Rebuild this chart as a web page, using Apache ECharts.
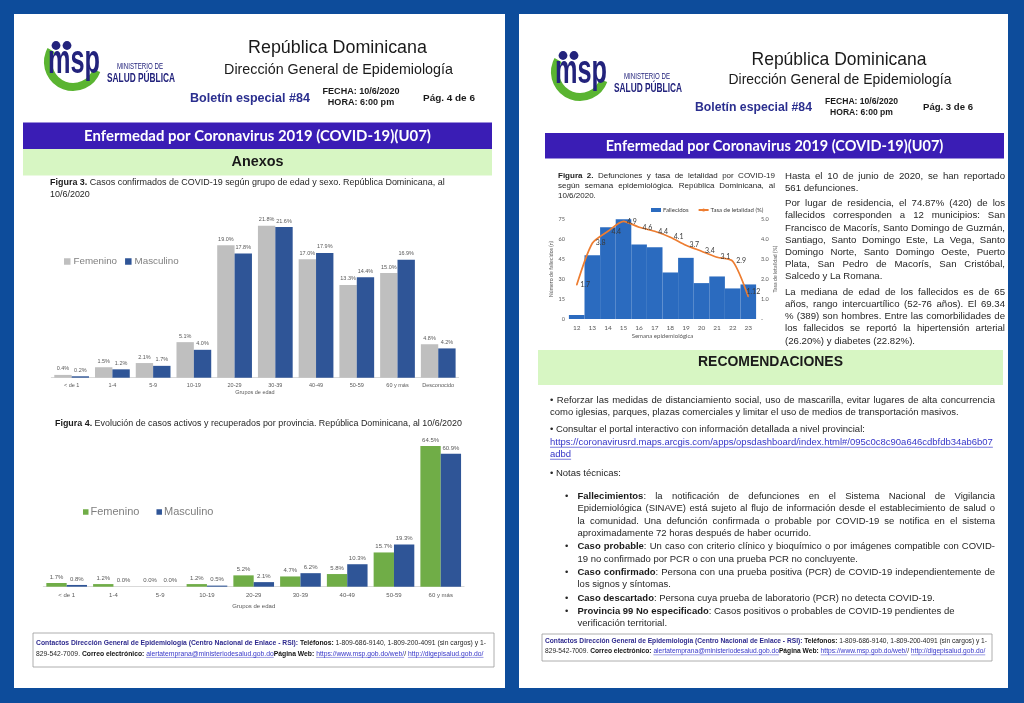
<!DOCTYPE html>
<html><head><meta charset="utf-8">
<script src="https://cdn.jsdelivr.net/npm/echarts@6.0.0/dist/echarts.min.js"></script>
<style>html,body{margin:0;padding:0;background:#0d4c9b;}#c{width:1024px;height:703px;}</style>
</head><body><div id="c"></div>
<script>
// ---------------- chart data ----------------
const fig3Categories = ['< de 1','1-4','5-9','10-19','20-29','30-39','40-49','50-59','60 y más','Desconocido'];
const fig3Femenino  = [0.4, 1.5, 2.1, 5.1, 19.0, 21.8, 17.0, 13.3, 15.0, 4.8];
const fig3Masculino = [0.2, 1.2, 1.7, 4.0, 17.8, 21.6, 17.9, 14.4, 16.9, 4.2];

const fig4Categories = ['< de 1','1-4','5-9','10-19','20-29','30-39','40-49','50-59','60 y más'];
const fig4Femenino  = [1.7, 1.2, 0.0, 1.2, 5.2, 4.7, 5.8, 15.7, 64.5];
const fig4Masculino = [0.8, 0.0, 0.0, 0.5, 2.1, 6.2, 10.3, 19.3, 60.9];

const fig2Weeks      = ['12','13','14','15','16','17','18','19','20','21','22','23'];
const fig2Fallecidos = [3, 48, 69, 77, 56, 54, 35, 46, 27, 32, 23, 26];
const fig2Tasa       = [1.7, 3.8, 4.4, 4.9, 4.6, 4.4, 4.1, 3.7, 3.4, 3.1, 2.9, 1.12];

// ---------------- text content ----------------
const titleBar = 'Enfermedad por Coronavirus 2019 (COVID-19)(U07)';
const rightColumn = [
  {y:176, j:1, s:'Hasta el 10 de junio de 2020, se han reportado'},
  {y:188.2, s:'561 defunciones.'},
  {y:203.6, j:1, s:'Por lugar de residencia, el 74.87% (420) de los'},
  {y:215.8, j:1, s:'fallecidos corresponden a 12 municipios: San'},
  {y:228, j:1, s:'Francisco de Macorís, Santo Domingo de Guzmán,'},
  {y:240.2, j:1, s:'Santiago, Santo Domingo Este, La Vega, Santo'},
  {y:252.4, j:1, s:'Domingo Norte, Santo Domingo Oeste, Puerto'},
  {y:264.6, j:1, s:'Plata, San Pedro de Macorís, San Cristóbal,'},
  {y:276.8, s:'Salcedo y La Romana.'},
  {y:292.2, j:1, s:'La mediana de edad de los fallecidos es de 65'},
  {y:304.4, j:1, s:'años, rango intercuartílico (52-76 años). El 69.34'},
  {y:316.6, j:1, s:'% (389) son hombres. Entre las comorbilidades de'},
  {y:328.8, j:1, s:'los fallecidos se reportó la hipertensión arterial'},
  {y:341, s:'(26.20%) y diabetes (22.82%).'}
];
const recLines = [
  {x:550, w:445, y:400, j:1, s:'• Reforzar las medidas de distanciamiento social, uso de mascarilla, evitar lugares de alta concurrencia'},
  {x:550, w:445, y:412, s:'como iglesias, parques, plazas comerciales y limitar el uso de medios de transportación masivos.'},
  {x:550, w:445, y:429.5, s:'• Consultar el portal interactivo con información detallada a nivel provincial:'},
  {x:550, w:445, y:442.5, s:[['l','https://coronavirusrd.maps.arcgis.com/apps/opsdashboard/index.html#/095c0c8c90a646cdbfdb34ab6b07']]},
  {x:550, w:445, y:454.5, s:[['l','adbd']]},
  {x:550, w:445, y:473, s:'• Notas técnicas:'},
  {x:577.5, w:417.5, y:496, j:1, b:1, s:[['b','Fallecimientos'],['n',': la notificación de defunciones en el Sistema Nacional de Vigilancia']]},
  {x:577.5, w:417.5, y:508.5, j:1, s:'Epidemiológica (SINAVE) está sujeto al flujo de información desde el establecimiento de salud o'},
  {x:577.5, w:417.5, y:521, j:1, s:'la comunidad. Una defunción confirmada o probable por COVID-19 se notifica en el sistema'},
  {x:577.5, w:417.5, y:533.5, s:'aproximadamente 72 horas después de haber ocurrido.'},
  {x:577.5, w:417.5, y:546.5, j:1, b:1, s:[['b','Caso probable'],['n',': Un caso con criterio clínico y bioquímico o por imágenes compatible con COVID-']]},
  {x:577.5, w:417.5, y:559, s:'19 no confirmado por PCR o con una prueba PCR no concluyente.'},
  {x:577.5, w:417.5, y:572, j:1, b:1, s:[['b','Caso confirmado'],['n',': Persona con una prueba positiva (PCR) de COVID-19 independientemente de']]},
  {x:577.5, w:417.5, y:584.5, s:'los signos y síntomas.'},
  {x:577.5, w:417.5, y:598, b:1, s:[['b','Caso descartado'],['n',': Persona cuya prueba de laboratorio (PCR) no detecta COVID-19.']]},
  {x:577.5, w:417.5, y:611, b:1, s:[['b','Provincia 99 No especificado'],['n',': Casos positivos o probables de COVID-19 pendientes de']]},
  {x:577.5, w:417.5, y:623.5, s:'verificación territorial.'}
];
const footerLine1 = [['v','Contactos Dirección General de Epidemiología (Centro Nacional de Enlace - RSI):'],['k',' Teléfonos:'],['n',' 1-809-686-9140, 1-809-200-4091 (sin cargos) y 1-']];
const footerLine2 = [['n','829-542-7009.  '],['k','Correo electrónico:'],['n',' '],['l','alertatemprana@ministeriodesalud.gob.do'],['k','Página Web:'],['n',' '],['l','https://www.msp.gob.do/web/'],['n','/ '],['l','http://digepisalud.gob.do/']];

// ---------------- helpers ----------------
const AR = "'Liberation Sans', Arial, sans-serif";
const CAL = "Lato, 'Open Sans', sans-serif";
const G = [];
const ctx = document.createElement('canvas').getContext('2d');
function font(bold, size, fam){ return (bold ? 'bold ' : '') + size.toFixed(2) + 'px ' + (fam || AR); }
function mw(f, t){ ctx.font = f; return ctx.measureText(t).width; }
function fit(text, bold, fam, target){ return 20 * target / mw(font(bold, 20, fam), text); }
function T(x, y, text, f, fill, align, extra){
  const el = {type:'text', x:x, y:y, z:5, silent:true,
    style:{text:text, font:f, fill:fill || '#1e1e1e', align:align || 'left', verticalAlign:'middle',
           textAlign:align || 'left', textVerticalAlign:'middle'}};
  if (extra) Object.assign(el, extra);
  G.push(el);
}
function R(x, y, w, h, fill, stroke, lw, z){
  G.push({type:'rect', z:(z == null ? 1 : z), silent:true, shape:{x:x, y:y, width:w, height:h},
          style:{fill:fill || 'none', stroke:stroke || null, lineWidth:lw || 0}});
}
const STY = {
  n:{b:0, c:'#262626'}, b:{b:1, c:'#1a1a1a'}, v:{b:1, c:'#2e2a8e'},
  l:{b:0, c:'#3535c8', u:1}, k:{b:1, c:'#111111'}
};
function segsOf(s){ return typeof s === 'string' ? [['n', s]] : s; }
function words(segs){
  const out = []; let cur = [];
  segs.forEach(s => {
    const parts = s[1].split(' ');
    parts.forEach((p, i) => { if (i > 0 && cur.length) { out.push(cur); cur = []; } if (p) cur.push([s[0], p]); });
  });
  if (cur.length) out.push(cur);
  return out;
}
function wwidth(wd, size, fam){ return wd.reduce((a, r) => a + mw(font(STY[r[0]].b, size, fam), r[1]), 0); }
function natural(segs, size, fam){
  const ws = words(segs); const sp = mw(font(0, size, fam), ' ');
  return ws.reduce((a, w) => a + wwidth(w, size, fam), 0) + sp * (ws.length - 1);
}
function drawLine(x, y, w, segs, size, justify, fam){
  const ws = words(segs); const sp = mw(font(0, size, fam), ' ');
  const widths = ws.map(wd => wwidth(wd, size, fam)); const tot = widths.reduce((a, b) => a + b, 0);
  let gap = sp;
  if (justify && ws.length > 1) gap = Math.max(sp * 0.4, (w - tot) / (ws.length - 1));
  let cx = x;
  ws.forEach(wd => {
    wd.forEach(r => {
      const st = STY[r[0]]; const f = font(st.b, size, fam); const rw = mw(f, r[1]);
      T(cx, y, r[1], f, st.c);
      if (st.u) G.push({type:'line', z:5, silent:true,
        shape:{x1:cx, y1:y + size * 0.5, x2:cx + rw, y2:y + size * 0.5},
        style:{stroke:st.c, lineWidth:Math.max(0.5, size * 0.07)}});
      cx += rw;
    });
    cx += gap;
  });
}
function block(lines, x, w, est, fam){
  let size = est;
  lines.forEach(L => {
    const n = natural(segsOf(L.s), est, fam); const ww = L.w || w;
    if (n > ww) size = Math.min(size, est * ww / n * 0.995);
  });
  lines.forEach(L => drawLine(L.x || x, L.y, L.w || w, segsOf(L.s), size, !!L.j, fam));
  return size;
}
function logo(ox, oy){
  G.push({type:'arc', z:3, silent:true, shape:{cx:ox + 28, cy:oy + 22, r:25, startAngle:0.35, endAngle:Math.PI + 0.5, clockwise:true},
          style:{stroke:'#5ab431', lineWidth:8, fill:null}});
  const f = font(1, 40, AR);
  const sx = 52 / mw(f, 'msp');
  T(ox + 3, oy + 22, 'msp', f, '#23237c', 'left', {scaleX:sx, z:4});
  G.push({type:'circle', z:4, silent:true, shape:{cx:ox + 11, cy:oy + 5.5, r:4.4}, style:{fill:'#23237c'}});
  G.push({type:'circle', z:4, silent:true, shape:{cx:ox + 22, cy:oy + 5.5, r:4.4}, style:{fill:'#23237c'}});
  const f1 = font(0, 9, AR), f2 = font(1, 12, AR);
  T(ox + 72, oy + 27, 'MINISTERIO DE', f1, '#23237c', 'left', {scaleX:46 / mw(f1, 'MINISTERIO DE')});
  T(ox + 62, oy + 39, 'SALUD PÚBLICA', f2, '#23237c', 'left', {scaleX:68 / mw(f2, 'SALUD PÚBLICA')});
}
function header(p){
  logo(p.lx, p.ly);
  T(p.rdx, p.rdy, 'República Dominicana', font(0, fit('República Dominicana', 0, AR, p.rdw)), '#1a1a1a', 'center');
  T(p.dgx, p.dgy, 'Dirección General de Epidemiología', font(0, fit('Dirección General de Epidemiología', 0, AR, p.dgw)), '#1a1a1a', 'center');
  T(p.bx, p.by, 'Boletín especial #84', font(1, fit('Boletín especial #84', 1, AR, p.bw)), '#2b2f8f', 'left');
  const fs = fit('FECHA: 10/6/2020', 1, AR, p.fw);
  T(p.fx, p.fy, 'FECHA: 10/6/2020', font(1, fs), '#1a1a1a', 'center');
  T(p.fx, p.fy + 11, 'HORA: 6:00 pm', font(1, fs), '#1a1a1a', 'center');
  T(p.px, p.by, p.pag, font(1, fit(p.pag, 1, AR, p.pw)), '#1a1a1a', 'left');
  R(p.tbx, p.tby, p.tbw, p.tbh, '#3a1db5');
  T(p.tbx + p.tbw / 2, p.tby + p.tbh / 2 + 0.5, titleBar, font(1, fit(titleBar, 1, CAL, p.ttw), CAL), '#ffffff', 'center');
}
function footer(x, y, w, h, y1, y2, tw){
  R(x, y, w, h, '#ffffff', '#9a9a9a', 0.8, 2);
  let size = 6.5 * tw / natural(footerLine2, 6.5);
  const n1 = natural(footerLine1, size); if (n1 > tw) size *= tw / n1;
  drawLine(x + 3, y1, tw, footerLine1, size, true);
  drawLine(x + 3, y2, tw, footerLine2, size, false);
}

// ---------------- pages ----------------
R(14, 14, 491, 674, '#ffffff', null, 0, 0);
R(519, 14, 489, 674, '#ffffff', null, 0, 0);

header({lx:45, ly:40, rdx:337.5, rdy:48, rdw:179, dgx:338.5, dgy:70, dgw:229, bx:190, by:98.5, bw:120,
        fx:361, fy:92, fw:77, px:423, pw:52, pag:'Pág. 4 de 6', tbx:23, tby:122.5, tbw:469, tbh:26.5, ttw:347});
header({lx:552, ly:50, rdx:839, rdy:60, rdw:175, dgx:840, dgy:80, dgw:223, bx:695, by:107.5, bw:117,
        fx:861.5, fy:101.5, fw:73, px:923, pw:50, pag:'Pág. 3 de 6', tbx:545, tby:133, tbw:459, tbh:25.5, ttw:338});

// left page bands and captions
R(23, 149, 469, 26.5, '#d7f6c3');
T(257.5, 162.5, 'Anexos', font(1, fit('Anexos', 1, AR, 52)), '#1a1a1a', 'center');
const cap3 = [['b','Figura 3.'],['n',' Casos confirmados de COVID-19 según grupo de edad y sexo. República Dominicana, al']];
const s3 = 10 * 395 / natural(cap3, 10);
drawLine(50, 182.5, 400, cap3, s3, false);
drawLine(50, 194.5, 400, [['n','10/6/2020']], s3, false);
const cap4 = [['b','Figura 4.'],['n',' Evolución de casos activos y recuperados por provincia. República Dominicana, al 10/6/2020']];
drawLine(55, 423.5, 410, cap4, 10 * 407 / natural(cap4, 10), false);
footer(33, 633, 461, 34, 643.5, 654, 450);

// right page
block([
  {y:176, j:1, s:[['b','Figura 2.'],['n',' Defunciones y tasa de letalidad por COVID-19']]},
  {y:186, j:1, s:'según semana epidemiológica. República Dominicana, al'},
  {y:196, s:'10/6/2020.'}
], 558, 217, 8);
block(rightColumn, 785, 220, 10.2);
R(538, 350, 465, 35, '#d7f6c3');
T(770.5, 362, 'RECOMENDACIONES', font(1, fit('RECOMENDACIONES', 1, AR, 145)), '#1a1a1a', 'center');
const recSize = block(recLines, 550, 445, 9.6);
recLines.forEach(L => { if (L.b) T(565, L.y, '•', font(0, recSize), '#262626', 'left'); });
footer(542, 634, 450, 27, 641.5, 651.5, 442);

// ---------------- chart ----------------
const chart = echarts.init(document.getElementById('c'), null, {renderer:'canvas', width:1024, height:703});
const pct = p => p.value.toFixed(1) + '%';
const lblGray = '#595959';
const lastIdx = fig2Tasa.length - 1;

const option = {
  backgroundColor: '#0d4c9b',
  animation: false,
  textStyle: {fontFamily: AR},
  grid: [
    {left:51.3, top:203.4, width:407.3, height:174.3, containLabel:false, outerBoundsMode:'none'},
    {left:43.3, top:434, width:420.8, height:152.7, containLabel:false, outerBoundsMode:'none'},
    {left:568.9, top:219.3, width:187.2, height:99.7, containLabel:false, outerBoundsMode:'none'}
  ],
  xAxis: [
    {gridIndex:0, type:'category', data:fig3Categories,
     axisLine:{show:true, lineStyle:{color:'#d9d9d9', width:1}}, axisTick:{show:false},
     axisLabel:{interval:0, fontSize:5.5, color:lblGray, margin:5},
     name:'Grupos de edad', nameLocation:'middle', nameGap:11, nameTextStyle:{fontSize:5.5, color:lblGray}},
    {gridIndex:1, type:'category', data:fig4Categories,
     axisLine:{show:true, lineStyle:{color:'#d9d9d9', width:1}}, axisTick:{show:false},
     axisLabel:{interval:0, fontSize:6, color:lblGray, margin:6},
     name:'Grupos de edad', nameLocation:'middle', nameGap:17, nameTextStyle:{fontSize:6, color:lblGray}},
    {gridIndex:2, type:'category', data:fig2Weeks,
     axisLine:{show:false}, axisTick:{show:false},
     axisLabel:{interval:0, fontSize:6.5, color:lblGray, margin:5, fontFamily:CAL},
     name:'Semana epidemiológica', nameLocation:'middle', nameGap:14, nameTextStyle:{fontSize:6, color:lblGray, fontFamily:CAL}}
  ],
  yAxis: [
    {gridIndex:0, type:'value', min:0, max:25, show:false},
    {gridIndex:1, type:'value', min:0, max:70, show:false},
    {gridIndex:2, type:'value', min:0, max:75, interval:15,
     axisLine:{show:false}, axisTick:{show:false}, splitLine:{show:false},
     axisLabel:{fontSize:5.5, color:lblGray, margin:4, fontFamily:CAL},
     name:'Número de fallecidos (n)', nameLocation:'middle', nameGap:15, nameRotate:90,
     nameTextStyle:{fontSize:5.3, color:lblGray, fontFamily:CAL}},
    {gridIndex:2, type:'value', position:'right', min:0, max:5, interval:1,
     axisLine:{show:false}, axisTick:{show:false}, splitLine:{show:false},
     axisLabel:{fontSize:5.5, color:lblGray, margin:5, fontFamily:CAL, formatter:v => v === 0 ? '-' : v.toFixed(1)},
     name:'Tasa de letalidad (%)', nameLocation:'middle', nameGap:17, nameRotate:90,
     nameTextStyle:{fontSize:5.3, color:lblGray, fontFamily:CAL}}
  ],
  legend: [
    {left:64, top:256.5, padding:0, itemWidth:6.5, itemHeight:6.5, itemGap:8, icon:'rect',
     data:['Femenino','Masculino'], textStyle:{fontSize:9.8, color:'#7f7f7f', padding:[0,0,0,-2]}},
    {left:83, top:506.5, padding:0, itemWidth:5.5, itemHeight:5.5, itemGap:14, icon:'rect',
     data:['Femenino ','Masculino '], textStyle:{fontSize:11, color:'#7f7f7f', padding:[0,0,0,-3]}},
    {left:651, top:207, padding:0, itemWidth:10, itemHeight:4, itemGap:9,
     data:[{name:'Fallecidos', icon:'rect'}, {name:'Tasa de letalidad (%)'}],
     textStyle:{fontSize:6, color:'#404040', fontFamily:CAL, padding:[0,0,0,-3]}}
  ],
  series: [
    {name:'Femenino', type:'bar', xAxisIndex:0, yAxisIndex:0, data:fig3Femenino,
     barGap:'0%', barCategoryGap:'14.7%', itemStyle:{color:'#bfbfbf'},
     label:{show:true, position:'top', distance:3, fontSize:5.5, color:lblGray, formatter:pct}},
    {name:'Masculino', type:'bar', xAxisIndex:0, yAxisIndex:0, data:fig3Masculino,
     barGap:'0%', barCategoryGap:'14.7%', itemStyle:{color:'#2f5597'},
     label:{show:true, position:'top', distance:3, fontSize:5.5, color:lblGray, formatter:pct}},
    {name:'Femenino ', type:'bar', xAxisIndex:1, yAxisIndex:1, data:fig4Femenino,
     barGap:'0%', barCategoryGap:'13%', itemStyle:{color:'#70ad47'},
     label:{show:true, position:'top', distance:3, fontSize:6, color:lblGray, formatter:pct}},
    {name:'Masculino ', type:'bar', xAxisIndex:1, yAxisIndex:1, data:fig4Masculino,
     barGap:'0%', barCategoryGap:'13%', itemStyle:{color:'#2f5597'},
     label:{show:true, position:'top', distance:3, fontSize:6, color:lblGray, formatter:pct}},
    {name:'Fallecidos', type:'bar', xAxisIndex:2, yAxisIndex:2, data:fig2Fallecidos,
     barCategoryGap:'0%', itemStyle:{color:'#2b6bbf'}},
    {name:'Tasa de letalidad (%)', type:'line', xAxisIndex:2, yAxisIndex:3,
     data:fig2Tasa.map((v, i) => i === lastIdx ? {value:v, label:{position:'top', offset:[5, 2]}} : v),
     smooth:0.25, symbol:'circle', symbolSize:1,
     lineStyle:{color:'#ed7d31', width:1.7}, itemStyle:{color:'#ed7d31'},
     label:{show:true, position:'right', distance:3, fontSize:7, color:'#3a3a3a', fontFamily:CAL}}
  ],
  graphic: {elements: G}
};
chart.setOption(option);
</script></body></html>
